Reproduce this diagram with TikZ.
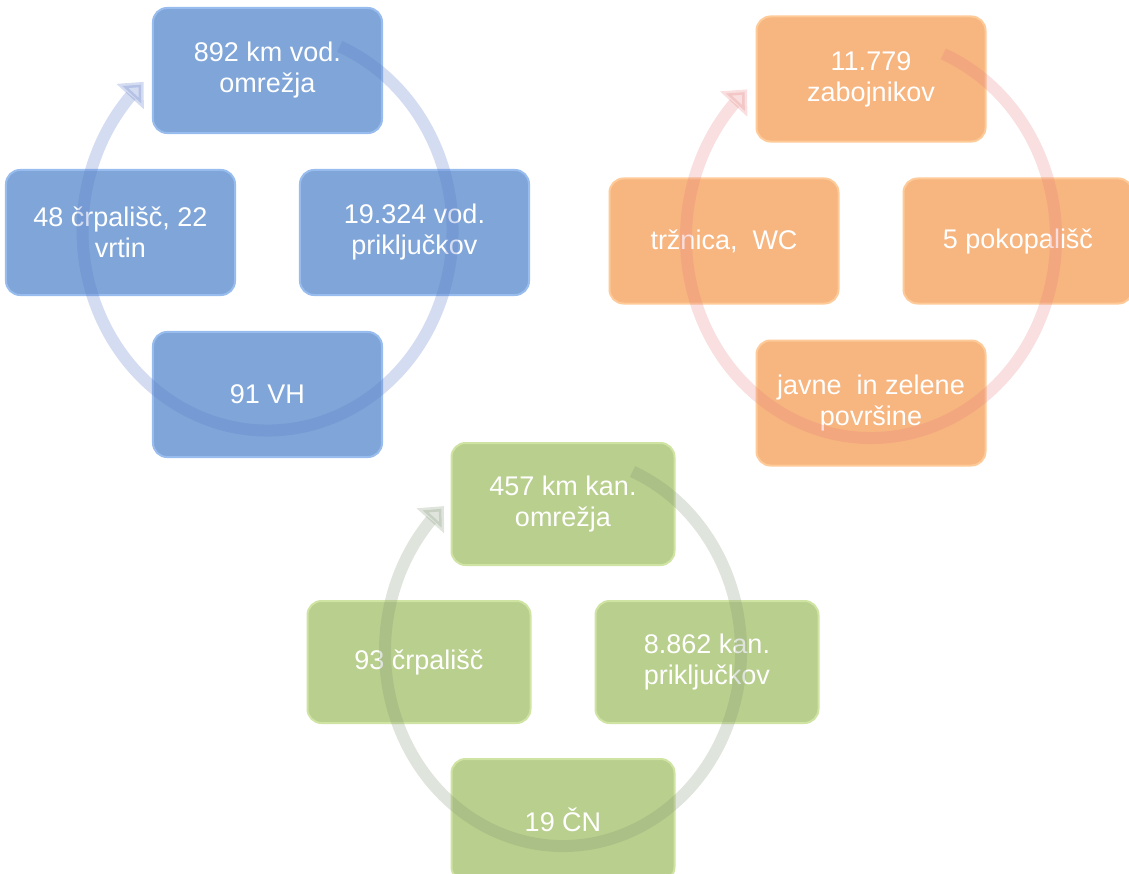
\documentclass[tikz,border=0pt]{standalone}
\usepackage{fontspec}
\setmainfont{Liberation Sans}
\usetikzlibrary{matrix,arrows.meta,bending}

\definecolor{vodfill}{HTML}{80A6D9}
\definecolor{vodline}{HTML}{98BCEE}
\definecolor{vodarc}{RGB}{90,120,200}
\definecolor{odpfill}{HTML}{F7B57F}
\definecolor{odpline}{HTML}{FDCA98}
\definecolor{odparc}{RGB}{230,130,130}
\definecolor{kanfill}{HTML}{B9CF8D}
\definecolor{kanline}{HTML}{CFE3A2}
\definecolor{kanarc}{RGB}{130,150,120}

\tikzset{
  cbox/.style={rectangle,rounded corners=14pt,minimum width=229pt,minimum height=125pt,
    align=center,text=white,font=\fontsize{27}{31}\selectfont,line width=2pt},
  vodbox/.style={cbox,fill=vodfill,draw=vodline},
  odpbox/.style={cbox,fill=odpfill,draw=odpline},
  kanbox/.style={cbox,minimum width=223pt,minimum height=122pt,fill=kanfill,draw=kanline},
  cyc/.style={line width=12pt,opacity=0.26,-{Triangle[width=36pt,length=20pt]}}
}

\begin{document}
\begin{tikzpicture}[x=1pt,y=1pt]
  \useasboundingbox (0,0) rectangle (1129,-874);
  % vodovod
  \matrix (vod) [row sep=35pt,column sep=-84pt] at (267.5,-232.5) {
     & \node[vodbox] (vod-t) {892 km vod.\\omrežja}; & \\
     \node[vodbox] (vod-l) {48 črpališč, 22\\vrtin}; & & \node[vodbox] (vod-r) {19.324 vod.\\priključkov}; \\
     & \node[vodbox] (vod-b) {91 VH}; & \\};
  \draw[cyc,vodarc] ([yshift=2pt]vod.center) ++(67:185pt and 200pt)
    arc[start angle=67,end angle=-228,x radius=185pt,y radius=200pt];
  % odpadki
  \matrix (odp) [row sep=35pt,column sep=-84pt] at (871,-241) {
     & \node[odpbox] (odp-t) {11.779\\zabojnikov}; & \\
     \node[odpbox] (odp-l) {tržnica,\ \ WC}; & & \node[odpbox] (odp-r) {5 pokopališč}; \\
     & \node[odpbox] (odp-b) {javne\ \ in zelene\\površine}; & \\};
  \draw[cyc,odparc] ([yshift=3pt]odp.center) ++(67:185pt and 200pt)
    arc[start angle=67,end angle=-228,x radius=185pt,y radius=200pt];
  % kanalizacija
  \matrix (kan) [row sep=34pt,column sep=-81pt] at (563,-662) {
     & \node[kanbox] (kan-t) {457 km kan.\\omrežja}; & \\
     \node[kanbox] (kan-l) {93 črpališč}; & & \node[kanbox] (kan-r) {8.862 kan.\\priključkov}; \\
     & \node[kanbox] (kan-b) {19 ČN}; & \\};
  \draw[cyc,kanarc] ([yshift=11pt]kan.center) ++(67:178pt and 195pt)
    arc[start angle=67,end angle=-228,x radius=178pt,y radius=195pt];
\end{tikzpicture}
\end{document}
